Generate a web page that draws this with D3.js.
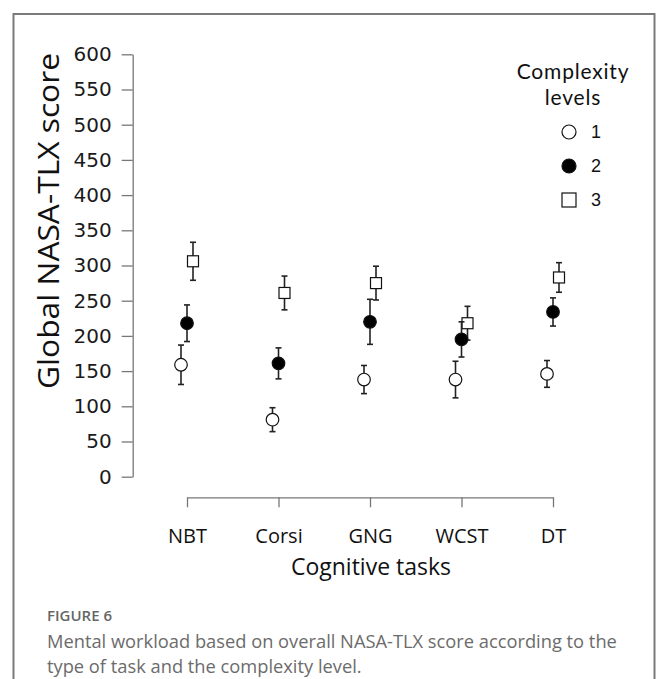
<!DOCTYPE html>
<meta charset="utf-8">
<head>
    <title>NASA-TLX by task and complexity</title>
    <style>
        body { margin: 0; background: #fff; }
        svg { display: block; }
    </style>
</head>
<body>
    <script src="https://cdn.jsdelivr.net/npm/d3@7"></script>
    <script>
        // data
        var tasks = ["NBT", "Corsi", "GNG", "WCST", "DT"];
        var levels = ["1", "2", "3"];
        var level1Mean = [159, 81, 138, 138, 146];
        var level1Err = [28, 17, 20, 26, 19];
        var level2Mean = [218, 161, 220, 195, 234];
        var level2Err = [26, 22, 32, 25, 20];
        var level3Mean = [306, 261, 275, 218, 283];
        var level3Err = [27, 24, 24, 24, 21];
        var yTicks = [0, 50, 100, 150, 200, 250, 300, 350, 400, 450, 500, 550, 600];

        var width = 657, height = 679;

        var svg = d3.select("body")
            .append("svg")
            .attr("width", width)
            .attr("height", height);

        // frame round the figure (open at the bottom)
        svg.append("path")
            .attr("d", "M13.5," + height + "V14H654.5V" + height)
            .attr("fill", "none")
            .attr("stroke", "#7a7a7a")
            .attr("stroke-width", 2);

        var x = d3.scalePoint().domain(tasks).range([187, 553]);
        var y = d3.scaleLinear().domain([0, 600]).range([476.7, 54.3]);

        // y axis
        var yAxis = svg.append("g")
            .attr("transform", "translate(132.7,0)")
            .call(d3.axisLeft(y).tickValues(yTicks).tickSize(11).tickSizeOuter(0).tickPadding(10));
        yAxis.selectAll("path, line").attr("stroke", "#777").attr("stroke-width", 1.3);
        yAxis.selectAll("text")
            .attr("fill", "#1a1a1a")
            .style("font-family", "DejaVu Sans")
            .style("font-size", "20px");

        // x axis
        var xAxis = svg.append("g")
            .attr("transform", "translate(0,497.3)")
            .call(d3.axisBottom(x).tickSize(10).tickSizeOuter(0).tickPadding(22));
        xAxis.selectAll("path, line").attr("stroke", "#777").attr("stroke-width", 1.3);
        xAxis.selectAll("text")
            .attr("fill", "#111")
            .style("font-family", "Open Sans")
            .style("font-size", "20px");

        // axis titles
        svg.append("text")
            .attr("transform", "translate(59,221) rotate(-90)")
            .attr("text-anchor", "middle")
            .attr("textLength", 336)
            .attr("lengthAdjust", "spacingAndGlyphs")
            .style("font-family", "Open Sans")
            .style("font-weight", 500)
            .style("font-size", "29px")
            .attr("fill", "#111")
            .text("Global NASA-TLX score");

        svg.append("text")
            .attr("x", 371)
            .attr("y", 575)
            .attr("text-anchor", "middle")
            .style("font-family", "Open Sans")
            .style("font-weight", 500)
            .style("font-size", "23px")
            .attr("fill", "#111")
            .text("Cognitive tasks");

        // series, drawn level 3 first so the filled circles sit on top
        var series = [
            { level: "3", mean: level3Mean, err: level3Err, dx: 6 },
            { level: "2", mean: level2Mean, err: level2Err, dx: 0 },
            { level: "1", mean: level1Mean, err: level1Err, dx: -6 }
        ];

        function drawMarker(g, level, cx, cy, r) {
            if (level === "3") {
                g.append("rect")
                    .attr("x", cx - r).attr("y", cy - r)
                    .attr("width", 2 * r).attr("height", 2 * r)
                    .attr("fill", "#fff").attr("stroke", "#111").attr("stroke-width", 1.2);
            } else {
                g.append("circle")
                    .attr("cx", cx).attr("cy", cy).attr("r", r)
                    .attr("fill", level === "2" ? "#000" : "#fff")
                    .attr("stroke", "#111").attr("stroke-width", 1.2);
            }
        }

        series.forEach(function (s) {
            var g = svg.append("g").attr("class", "level-" + s.level);
            tasks.forEach(function (t, i) {
                var cx = x(t) + s.dx;
                var lo = y(s.mean[i] - s.err[i]);
                var hi = y(s.mean[i] + s.err[i]);
                g.append("line")
                    .attr("x1", cx).attr("x2", cx).attr("y1", lo).attr("y2", hi)
                    .attr("stroke", "#222").attr("stroke-width", 1.6);
                [lo, hi].forEach(function (yy) {
                    g.append("line")
                        .attr("x1", cx - 3).attr("x2", cx + 3).attr("y1", yy).attr("y2", yy)
                        .attr("stroke", "#222").attr("stroke-width", 1.6);
                });
                drawMarker(g, s.level, cx, y(s.mean[i]), s.level === "3" ? 5.5 : 6.3);
            });
        });

        // legend
        var legend = svg.append("g").attr("id", "legend");
        legend.append("text")
            .attr("x", 573).attr("y", 79)
            .attr("text-anchor", "middle")
            .style("font-family", "Lato").style("font-size", "21px").style("letter-spacing", "0.8px")
            .attr("fill", "#111")
            .text("Complexity");
        legend.append("text")
            .attr("x", 573).attr("y", 104.5)
            .attr("text-anchor", "middle")
            .style("font-family", "Lato").style("font-size", "21px").style("letter-spacing", "0.8px")
            .attr("fill", "#111")
            .text("levels");

        var legendY = d3.scalePoint().domain(levels).range([132, 200]);
        levels.forEach(function (l) {
            drawMarker(legend, l, 569, legendY(l), 7);
            legend.append("text")
                .attr("x", 591).attr("y", legendY(l))
                .attr("dy", "0.36em")
                .style("font-family", "Liberation Sans").style("font-size", "18px")
                .attr("fill", "#111")
                .text(l);
        });

        // caption
        svg.append("text")
            .attr("x", 47).attr("y", 621)
            .style("font-family", "Open Sans").style("font-weight", 600).style("font-size", "15px")
            .attr("fill", "#666")
            .text("FIGURE 6");
        var caption = svg.append("text")
            .style("font-family", "Open Sans").style("font-size", "18.3px")
            .attr("fill", "#6b6b6b");
        caption.append("tspan").attr("x", 47).attr("y", 648)
            .text("Mental workload based on overall NASA-TLX score according to the");
        caption.append("tspan").attr("x", 47).attr("y", 673)
            .text("type of task and the complexity level.");
    </script>
</body>
</html>
